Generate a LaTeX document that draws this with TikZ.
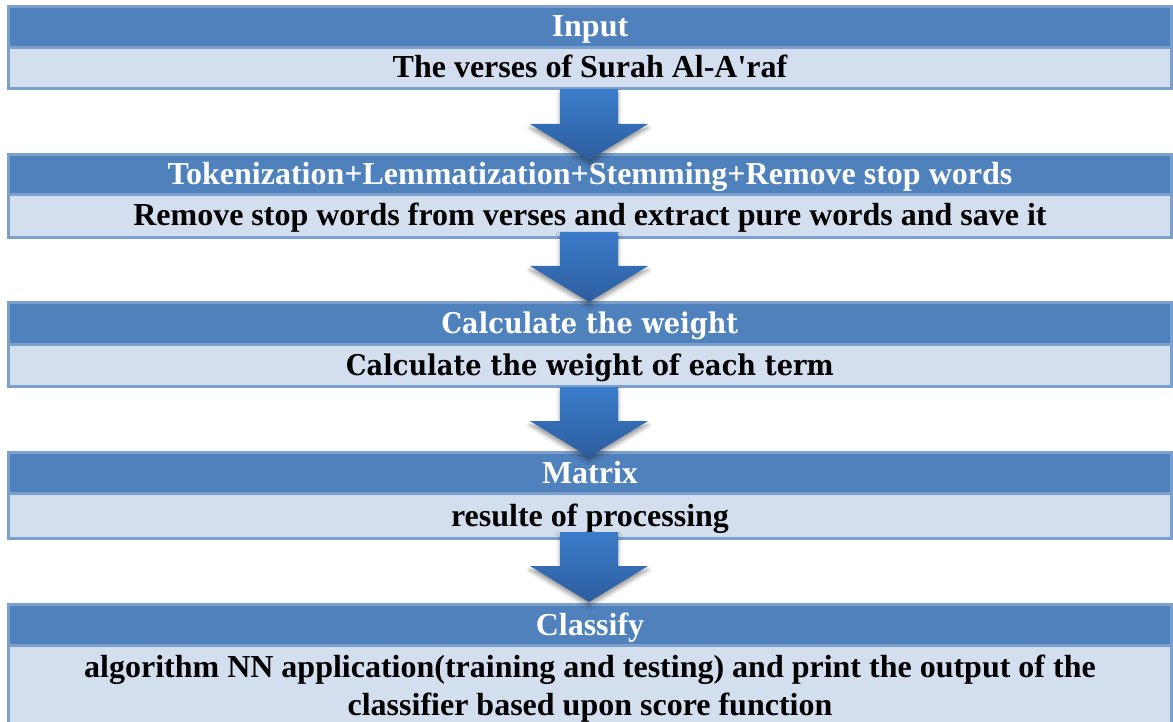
\documentclass[tikz,border=0pt]{standalone}
\usepackage{fontspec}
\setmainfont{Liberation Serif}[Ligatures=TeXOff]
\newfontfamily\cambria{DejaVu Serif Condensed}
\usetikzlibrary{calc,shadows.blur}

\definecolor{hdrfill}{HTML}{4F81BD}
\definecolor{bodfill}{HTML}{D3DFEE}
\definecolor{brd}{HTML}{7BA0CD}
\definecolor{arrtop}{HTML}{3B7CCA}
\definecolor{arrbot}{HTML}{2D5E9F}

% block arrow from the top point #1 down to the tip #2
\newcommand\blockarrow[2]{%
  \path[arrowbody] let \p1=(#1), \p2=(#2) in
    (\x1-29pt,\y1) -- (\x1+29pt,\y1) -- (\x1+29pt,\y2+36pt)
    -- (\x1+59pt,\y2+36pt) -- (\x1,\y2) -- (\x1-59pt,\y2+36pt)
    -- (\x1-29pt,\y2+36pt) -- cycle;}

\begin{document}
\begin{tikzpicture}[x=1pt,y=-1pt,
  blk/.style={draw=brd, line width=3pt, minimum width=1163pt, inner sep=0pt},
  times/.style={font=\fontsize{32}{38}\selectfont\bfseries},
  camb/.style={font=\fontsize{28.5}{34}\selectfont\cambria\bfseries},
  oneline/.style={text height=23pt, text depth=3pt},
  hdr/.style={blk, fill=hdrfill, text=white},
  bdy/.style={blk, fill=bodfill, text=black},
  arrowbody/.style={top color=arrtop, bottom color=arrbot,
    blur shadow={shadow xshift=0pt, shadow yshift=-4pt,
      shadow blur radius=4pt, shadow opacity=40}},
]
\useasboundingbox (0,0) rectangle (1173,722);

% block 1
\node[hdr, times, oneline, minimum height=41pt] (h1) at (590,27) {Input};
\node[bdy, times, oneline, minimum height=41pt] (b1) at (590,68) {The verses of Surah Al-A'raf};
% block 2
\node[hdr, times, oneline, minimum height=40pt] (h2) at (590,174.5) {Tokenization+Lemmatization+Stemming+Remove stop words};
\node[bdy, times, oneline, minimum height=43pt] (b2) at (590,216) {Remove stop words from verses and extract pure words and save it};
% block 3
\node[hdr, camb, oneline, minimum height=42pt] (h3) at (590,323.5) {Calculate the weight};
\node[bdy, camb, oneline, minimum height=42pt] (b3) at (590,365.5) {Calculate the weight of each term};
% block 4
\node[hdr, times, oneline, minimum height=41pt] (h4) at (590,473) {Matrix};
\node[bdy, times, oneline, minimum height=45pt] (b4) at (590,516) {resulte of processing};
% block 5
\node[hdr, times, oneline, minimum height=41pt] (h5) at (590,625) {Classify};
\node[bdy, times, align=center, minimum height=86pt] (b5) at (590,688.5)
  {algorithm NN application(training and testing) and print the output of the\\
   classifier based upon score function};

% arrows between the blocks
\blockarrow{$(b1.south)+(-1,-1)$}{$(h2.north)+(-1,7)$}
\blockarrow{$(b2.south)+(-1,-7)$}{$(h3.north)+(-1,1)$}
\blockarrow{$(b3.south)+(-1,-1)$}{$(h4.north)+(-1,6)$}
\blockarrow{$(b4.south)+(-1,-8)$}{$(h5.north)+(-1,-1)$}
\end{tikzpicture}
\end{document}
